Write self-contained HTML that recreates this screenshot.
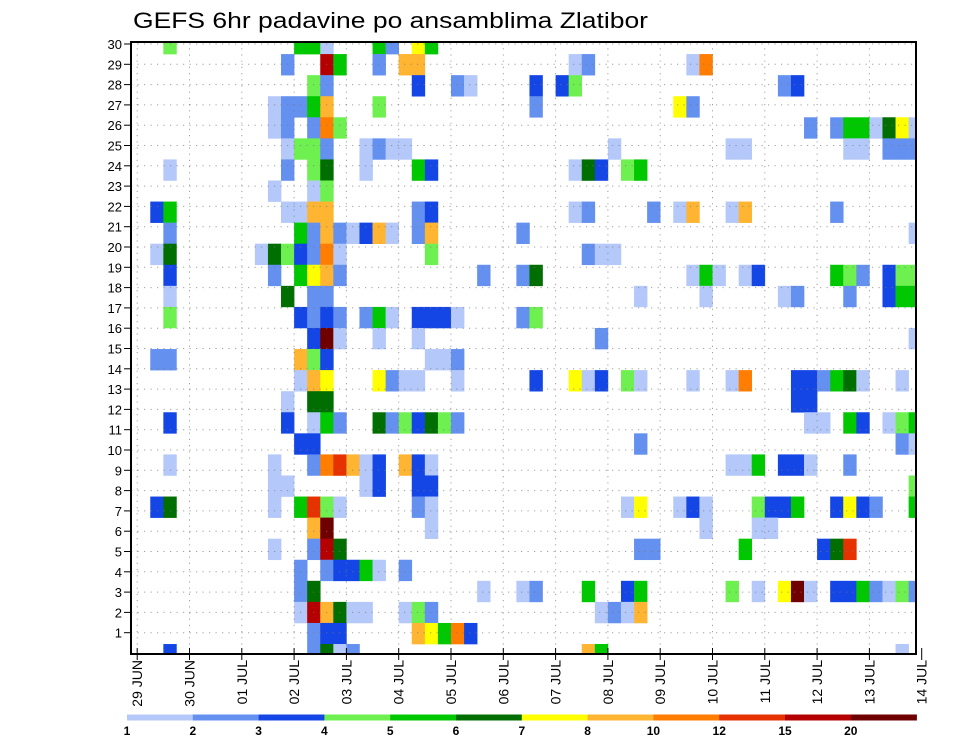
<!DOCTYPE html>
<html><head><meta charset="utf-8"><style>
html,body{margin:0;padding:0;background:#fff;}
svg{display:block;font-family:"Liberation Sans",sans-serif;}
</style></head><body>
<svg id="chart" width="960" height="742" viewBox="0 0 960 742" xmlns="http://www.w3.org/2000/svg">
<text x="133" y="28" font-size="22" textLength="515" lengthAdjust="spacingAndGlyphs" fill="#000">GEFS 6hr padavine po ansamblima Zlatibor</text>
<defs><clipPath id="plotclip"><rect x="131" y="42" width="785" height="612"/></clipPath></defs>
<g id="cells" clip-path="url(#plotclip)"></g>
<g id="grid"></g>
<rect x="131" y="42" width="785" height="612" fill="none" stroke="#000" stroke-width="2"/>
<g id="yaxis"></g>
<g id="xaxis"></g>
<g id="legend"></g>
</svg>
<script>
// ---- data ----
const dayLabels = ["29 JUN","30 JUN","01 JUL","02 JUL","03 JUL","04 JUL","05 JUL","06 JUL","07 JUL","08 JUL","09 JUL","10 JUL","11 JUL","12 JUL","13 JUL","14 JUL"];
const memberTicks = [1,2,3,4,5,6,7,8,9,10,11,12,13,14,15,16,17,18,19,20,21,22,23,24,25,26,27,28,29,30];
const levels = [1,2,3,4,5,6,7,8,10,12,15,20];
const levelColors = ["#b4c8fa","#6490f0","#1446e6","#6ef050","#00c800","#006e00","#ffff00","#ffb432","#ff7d00","#e63200","#b40000","#6e0000"];
// rows from top (k=0) to bottom; each entry [6h-step index, precip mm]
const precip = [
 [[2,4.5],[12,5.5],[13,5.5],[14,1.5],[18,5.5],[19,2.5],[21,7.5],[22,5.5]],
 [[11,2.5],[14,17.5],[15,5.5],[18,2.5],[20,9],[21,9],[33,1.5],[34,2.5],[42,1.5],[43,11]],
 [[13,4.5],[14,2.5],[21,3.5],[24,2.5],[25,1.5],[30,3.5],[32,3.5],[33,4.5],[49,2.5],[50,3.5]],
 [[10,1.5],[11,2.5],[12,2.5],[13,5.5],[14,9],[18,4.5],[30,2.5],[41,7.5],[42,2.5]],
 [[10,1.5],[11,2.5],[13,2.5],[14,11],[15,4.5],[51,2.5],[53,2.5],[54,5.5],[55,5.5],[56,1.5],[57,6.5],[58,7.5],[59,1.5]],
 [[11,1.5],[12,4.5],[13,4.5],[14,2.5],[17,1.5],[18,2.5],[19,1.5],[20,1.5],[36,1.5],[45,1.5],[46,1.5],[54,1.5],[55,1.5],[57,2.5],[58,2.5],[59,2.5]],
 [[2,1.5],[11,2.5],[13,4.5],[14,6.5],[17,1.5],[21,5.5],[22,3.5],[33,1.5],[34,6.5],[35,3.5],[37,4.5],[38,5.5]],
 [[10,1.5],[13,1.5],[14,4.5]],
 [[1,3.5],[2,5.5],[11,1.5],[12,1.5],[13,9],[14,9],[21,2.5],[22,3.5],[33,1.5],[34,2.5],[39,2.5],[41,1.5],[42,9],[45,1.5],[46,9],[53,2.5]],
 [[2,2.5],[12,5.5],[13,2.5],[14,9],[15,2.5],[16,1.5],[17,3.5],[18,9],[19,1.5],[21,2.5],[22,9],[29,2.5],[59,1.5]],
 [[1,1.5],[2,6.5],[9,1.5],[10,6.5],[11,4.5],[12,3.5],[13,2.5],[14,11],[15,1.5],[22,4.5],[34,2.5],[35,1.5],[36,1.5]],
 [[2,3.5],[10,2.5],[12,5.5],[13,7.5],[14,9],[15,2.5],[26,2.5],[29,2.5],[30,6.5],[42,1.5],[43,5.5],[44,1.5],[46,1.5],[47,3.5],[53,5.5],[54,4.5],[55,2.5],[57,3.5],[58,4.5],[59,4.5]],
 [[2,1.5],[11,6.5],[13,2.5],[14,2.5],[38,1.5],[43,1.5],[49,1.5],[50,2.5],[54,2.5],[57,3.5],[58,5.5],[59,5.5]],
 [[2,4.5],[12,3.5],[13,2.5],[14,3.5],[15,2.5],[17,2.5],[18,5.5],[19,1.5],[21,3.5],[22,3.5],[23,3.5],[24,1.5],[29,2.5],[30,4.5]],
 [[13,3.5],[14,25],[15,1.5],[18,1.5],[21,1.5],[35,2.5],[59,1.5]],
 [[1,2.5],[2,2.5],[12,9],[13,4.5],[14,3.5],[22,1.5],[23,1.5],[24,2.5]],
 [[12,1.5],[13,9],[14,7.5],[18,7.5],[19,2.5],[20,1.5],[21,1.5],[24,1.5],[30,3.5],[33,7.5],[34,1.5],[35,3.5],[37,4.5],[38,1.5],[42,1.5],[45,1.5],[46,11],[50,3.5],[51,3.5],[52,2.5],[53,5.5],[54,6.5],[55,1.5],[58,1.5]],
 [[11,1.5],[13,6.5],[14,6.5],[50,3.5],[51,3.5]],
 [[2,3.5],[11,3.5],[13,1.5],[14,5.5],[15,2.5],[18,6.5],[19,2.5],[20,4.5],[21,3.5],[22,6.5],[23,4.5],[24,2.5],[51,1.5],[52,1.5],[54,5.5],[55,3.5],[57,1.5],[58,4.5],[59,5.5]],
 [[12,3.5],[13,3.5],[38,2.5],[58,2.5],[59,1.5]],
 [[2,1.5],[10,1.5],[13,2.5],[14,11],[15,13.5],[16,9],[17,1.5],[18,3.5],[20,9],[21,3.5],[22,1.5],[45,1.5],[46,1.5],[47,5.5],[49,3.5],[50,3.5],[51,1.5],[54,2.5]],
 [[10,1.5],[11,1.5],[17,1.5],[18,3.5],[21,3.5],[22,3.5],[59,4.5]],
 [[1,3.5],[2,6.5],[10,1.5],[12,5.5],[13,13.5],[14,4.5],[15,1.5],[21,2.5],[22,1.5],[37,1.5],[38,7.5],[41,1.5],[42,3.5],[43,1.5],[47,4.5],[48,3.5],[49,3.5],[50,5.5],[53,3.5],[54,7.5],[55,3.5],[56,2.5],[59,5.5]],
 [[13,9],[14,25],[22,1.5],[43,1.5],[47,1.5],[48,1.5]],
 [[10,1.5],[13,2.5],[14,17.5],[15,6.5],[38,2.5],[39,2.5],[46,5.5],[52,3.5],[53,6.5],[54,13.5]],
 [[12,2.5],[14,2.5],[15,3.5],[16,3.5],[17,5.5],[18,1.5],[20,2.5]],
 [[12,2.5],[13,6.5],[26,1.5],[29,1.5],[30,2.5],[34,5.5],[37,3.5],[38,5.5],[45,4.5],[47,1.5],[49,7.5],[50,25],[51,1.5],[53,3.5],[54,3.5],[55,5.5],[56,2.5],[57,1.5],[58,4.5],[59,2.5]],
 [[12,1.5],[13,17.5],[14,9],[15,6.5],[16,1.5],[17,1.5],[20,1.5],[21,4.5],[22,2.5],[35,1.5],[36,2.5],[37,1.5],[38,9]],
 [[13,2.5],[14,3.5],[15,3.5],[21,9],[22,7.5],[23,5.5],[24,11],[25,3.5]],
 [[2,3.5],[13,2.5],[14,6.5],[15,1.5],[16,2.5],[34,9],[35,5.5],[58,1.5]]
];
// ---- scales ----
const NS="http://www.w3.org/2000/svg";
const X0=137.2, DAY=52.3, STEP=DAY/4;
const xStep = i => X0 + i*STEP;
const xDay = d => X0 + d*DAY;
const ROWH=21.07, ROWTOP=33;
const yRow = k => ROWTOP + k*ROWH;
const yTick = n => 44 + (30-n)*20.3;
function colorFor(v){let c=null;for(let i=0;i<levels.length;i++){if(v>=levels[i])c=levelColors[i];}return c;}
function mk(tag,attrs,parent){const e=document.createElementNS(NS,tag);for(const k in attrs)e.setAttribute(k,attrs[k]);parent.appendChild(e);return e;}
// cells
const cellsG=document.getElementById('cells');
precip.forEach((row,k)=>{
  row.forEach(([i,v])=>{
    const col=colorFor(v); if(!col) return;
    const r=mk('rect',{x:xStep(i).toFixed(2),y:yRow(k).toFixed(2),width:(STEP+0.3).toFixed(2),height:(ROWH+0.3).toFixed(2),fill:col},cellsG);
    
    
  });
});
// grid
const gridG=document.getElementById('grid');
memberTicks.forEach(n=>{
  const l=mk('line',{x1:131,x2:916,y1:yTick(n),y2:yTick(n),stroke:'#777','stroke-width':1,'stroke-dasharray':'1.2 5.3','stroke-opacity':0.7},gridG);
  
  
});
dayLabels.forEach((d,j)=>{
  const x=xDay(j); if(x<=132||x>=915) return;
  const l=mk('line',{x1:x,x2:x,y1:42,y2:654,stroke:'#777','stroke-width':1,'stroke-dasharray':'1.2 5','stroke-opacity':0.7},gridG);
  
  
});
// y axis
const yG=document.getElementById('yaxis');
memberTicks.forEach(n=>{
  const y=yTick(n);
  const t=mk('line',{x1:124,x2:131,y1:y,y2:y,stroke:'#000','stroke-width':1},yG);
  
  
  const tx=mk('text',{x:122,y:y+5,'font-size':13,'text-anchor':'end',fill:'#000'},yG);
  tx.textContent=n;
  
  
});
// x axis
const xG=document.getElementById('xaxis');
dayLabels.forEach((d,j)=>{
  const x=xDay(j);
  const t=mk('line',{x1:x,x2:x,y1:648,y2:660,stroke:'#000','stroke-width':1},xG);
  
  
  const tx=mk('text',{x:0,y:0,'font-size':14,'text-anchor':'end',fill:'#000',transform:`translate(${(x+5).toFixed(1)},660) rotate(-90)`},xG);
  tx.textContent=d;
  
  
});
// legend
const lg=document.getElementById('legend');
const LX=127, LW=65.8;
levels.forEach((lv,i)=>{
  const r=mk('rect',{x:LX+i*LW,y:714.5,width:LW+0.3,height:6,fill:levelColors[i]},lg);
  
  
  const tx=mk('text',{x:LX+i*LW,y:735,'font-size':12,'font-weight':'bold','text-anchor':'middle',fill:'#000'},lg);
  tx.textContent=lv;
  
  
});
</script>
</body></html>
